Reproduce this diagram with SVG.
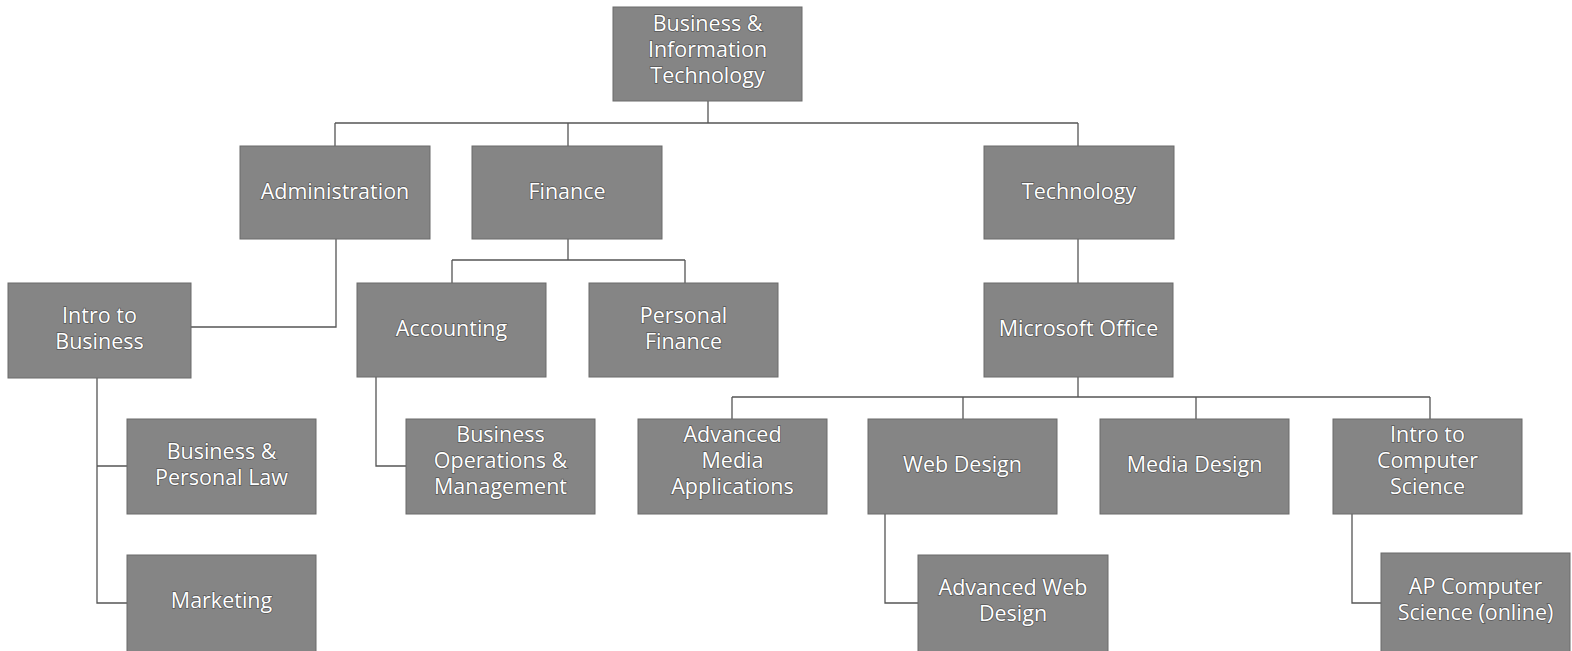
<svg xmlns="http://www.w3.org/2000/svg" width="1572" height="651" viewBox="0 0 1572 651">
<style>
.box{fill:#858585;stroke:#6a6a6a;stroke-width:1}
.t{font-family:"Open Sans","Liberation Sans",sans-serif;font-size:21.5px;fill:#ffffff;text-anchor:middle;paint-order:stroke;stroke:#555;stroke-width:1.4px}
.c{fill:none;stroke:#555;stroke-width:1.3}
</style>
<rect width="1572" height="651" fill="#fff"/>
<g id="connectors">
<path class="c" d="M708 101V123M335 123H1078M335 123V146M568 123V146M1078 123V146"/>
<path class="c" d="M336 239V327H191"/>
<path class="c" d="M568 239V260M452 260H685M452 260V283M685 260V283"/>
<path class="c" d="M376 377V466H406"/>
<path class="c" d="M97 378V603H127M97 466H127"/>
<path class="c" d="M1078 239V283"/>
<path class="c" d="M1078 377V397M732 397H1430M732 397V419M963 397V419M1196 397V419M1430 397V419"/>
<path class="c" d="M885 514V603H918"/>
<path class="c" d="M1352 514V603H1381"/>
</g>
<g id="root"><rect class="box" x="613" y="7" width="189" height="94"/><text class="t" x="707.5" y="31">Business &amp;<tspan x="707.5" dy="26">Information</tspan><tspan x="707.5" dy="26">Technology</tspan></text></g>
<g id="administration"><rect class="box" x="240" y="146" width="190" height="93"/><text class="t" x="335" y="199">Administration</text></g>
<g id="finance"><rect class="box" x="472" y="146" width="190" height="93"/><text class="t" x="567" y="199">Finance</text></g>
<g id="technology"><rect class="box" x="984" y="146" width="190" height="93"/><text class="t" x="1079" y="199">Technology</text></g>
<g id="intro-business"><rect class="box" x="8" y="283" width="183" height="95"/><text class="t" x="99.5" y="323">Intro to<tspan x="99.5" dy="26">Business</tspan></text></g>
<g id="accounting"><rect class="box" x="357" y="283" width="189" height="94"/><text class="t" x="451.5" y="336">Accounting</text></g>
<g id="personal-finance"><rect class="box" x="589" y="283" width="189" height="94"/><text class="t" x="683.5" y="323">Personal<tspan x="683.5" dy="26">Finance</tspan></text></g>
<g id="microsoft-office"><rect class="box" x="984" y="283" width="189" height="94"/><text class="t" x="1078.5" y="336">Microsoft Office</text></g>
<g id="business-law"><rect class="box" x="127" y="419" width="189" height="95"/><text class="t" x="221.5" y="459">Business &amp;<tspan x="221.5" dy="26">Personal Law</tspan></text></g>
<g id="business-ops"><rect class="box" x="406" y="419" width="189" height="95"/><text class="t" x="500.5" y="442">Business<tspan x="500.5" dy="26">Operations &amp;</tspan><tspan x="500.5" dy="26">Management</tspan></text></g>
<g id="adv-media"><rect class="box" x="638" y="419" width="189" height="95"/><text class="t" x="732.5" y="442">Advanced<tspan x="732.5" dy="26">Media</tspan><tspan x="732.5" dy="26">Applications</tspan></text></g>
<g id="web-design"><rect class="box" x="868" y="419" width="189" height="95"/><text class="t" x="962.5" y="472">Web Design</text></g>
<g id="media-design"><rect class="box" x="1100" y="419" width="189" height="95"/><text class="t" x="1194.5" y="472">Media Design</text></g>
<g id="intro-cs"><rect class="box" x="1333" y="419" width="189" height="95"/><text class="t" x="1427.5" y="442">Intro to<tspan x="1427.5" dy="26">Computer</tspan><tspan x="1427.5" dy="26">Science</tspan></text></g>
<g id="marketing"><rect class="box" x="127" y="555" width="189" height="97"/><text class="t" x="221.5" y="608">Marketing</text></g>
<g id="adv-web"><rect class="box" x="918" y="555" width="190" height="97"/><text class="t" x="1013" y="595">Advanced Web<tspan x="1013" dy="26">Design</tspan></text></g>
<g id="ap-cs"><rect class="box" x="1381" y="553" width="189" height="99"/><text class="t" x="1475.5" y="594">AP Computer<tspan x="1475.5" dy="26">Science (online)</tspan></text></g>
</svg>
